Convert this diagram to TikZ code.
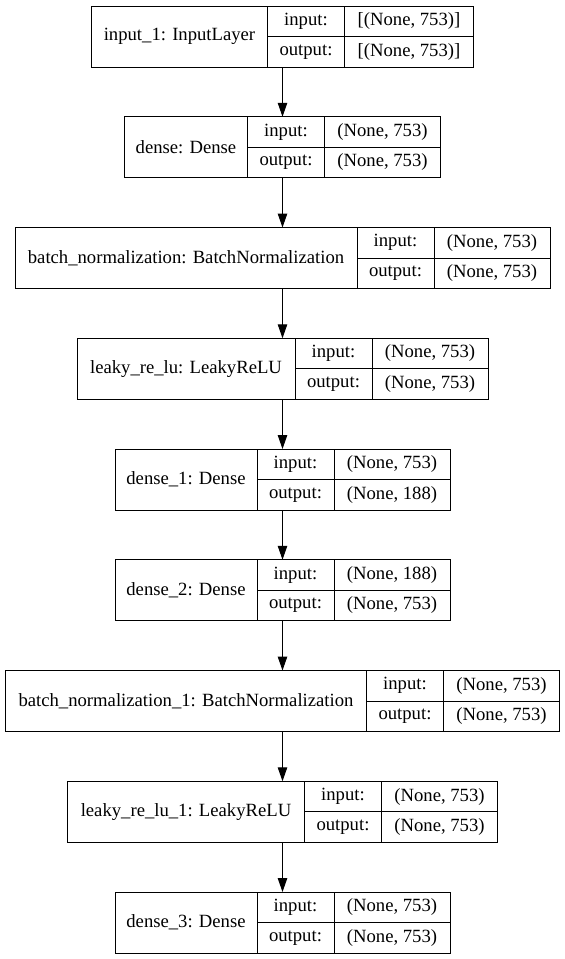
\documentclass[tikz,border=0pt]{standalone}
\usepackage{fontspec}
\setmainfont{Liberation Serif}
\usetikzlibrary{arrows.meta}
\begin{document}
\begin{tikzpicture}[x=1pt,y=-1pt,
    every node/.style={font=\fontsize{18.67pt}{22pt}\selectfont},
    rec/.style={minimum height=61pt,inner sep=0pt,outer sep=0pt},
    namecell/.style={draw,line width=1pt,minimum height=61pt,inner sep=0pt,outer sep=0pt,anchor=west},
    portcell/.style={draw,line width=1pt,minimum width=77pt,minimum height=30.5pt,inner sep=0pt,outer sep=0pt,anchor=north west},
    valcell/.style={draw,line width=1pt,minimum height=30.5pt,inner sep=0pt,outer sep=0pt,anchor=north west},
    flow/.style={line width=1pt,-{Triangle[length=14pt,width=9.5pt]}}]
  \useasboundingbox (0,0) rectangle (565,959);
  % input_1
  \node[rec,minimum width=382pt] (input1) at (282.5,36.5) {};
  \node[namecell,minimum width=176pt] (input1n) at (input1.west) {input\_1: InputLayer};
  \node[portcell] (input1i) at (input1n.north east) {input:};
  \node[portcell] (input1o) at (input1i.south west) {output:};
  \node[valcell,minimum width=129pt] (input1iv) at (input1i.north east) {[(None, 753)]};
  \node[valcell,minimum width=129pt] (input1ov) at (input1o.north east) {[(None, 753)]};
  % dense
  \node[rec,minimum width=316pt] (dense) at (282.5,147.25) {};
  \node[namecell,minimum width=123pt] (densen) at (dense.west) {dense: Dense};
  \node[portcell] (densei) at (densen.north east) {input:};
  \node[portcell] (denseo) at (densei.south west) {output:};
  \node[valcell,minimum width=116pt] (denseiv) at (densei.north east) {(None, 753)};
  \node[valcell,minimum width=116pt] (denseov) at (denseo.north east) {(None, 753)};
  % batch_normalization
  \node[rec,minimum width=535pt] (bn) at (282.5,258) {};
  \node[namecell,minimum width=342pt] (bnn) at (bn.west) {batch\_normalization: BatchNormalization};
  \node[portcell] (bni) at (bnn.north east) {input:};
  \node[portcell] (bno) at (bni.south west) {output:};
  \node[valcell,minimum width=116pt] (bniv) at (bni.north east) {(None, 753)};
  \node[valcell,minimum width=116pt] (bnov) at (bno.north east) {(None, 753)};
  % leaky_re_lu
  \node[rec,minimum width=411pt] (leaky) at (282.5,368.75) {};
  \node[namecell,minimum width=218pt] (leakyn) at (leaky.west) {leaky\_re\_lu: LeakyReLU};
  \node[portcell] (leakyi) at (leakyn.north east) {input:};
  \node[portcell] (leakyo) at (leakyi.south west) {output:};
  \node[valcell,minimum width=116pt] (leakyiv) at (leakyi.north east) {(None, 753)};
  \node[valcell,minimum width=116pt] (leakyov) at (leakyo.north east) {(None, 753)};
  % dense_1
  \node[rec,minimum width=335pt] (dense1) at (282.5,479.5) {};
  \node[namecell,minimum width=142pt] (dense1n) at (dense1.west) {dense\_1: Dense};
  \node[portcell] (dense1i) at (dense1n.north east) {input:};
  \node[portcell] (dense1o) at (dense1i.south west) {output:};
  \node[valcell,minimum width=116pt] (dense1iv) at (dense1i.north east) {(None, 753)};
  \node[valcell,minimum width=116pt] (dense1ov) at (dense1o.north east) {(None, 188)};
  % dense_2
  \node[rec,minimum width=335pt] (dense2) at (282.5,590.25) {};
  \node[namecell,minimum width=142pt] (dense2n) at (dense2.west) {dense\_2: Dense};
  \node[portcell] (dense2i) at (dense2n.north east) {input:};
  \node[portcell] (dense2o) at (dense2i.south west) {output:};
  \node[valcell,minimum width=116pt] (dense2iv) at (dense2i.north east) {(None, 188)};
  \node[valcell,minimum width=116pt] (dense2ov) at (dense2o.north east) {(None, 753)};
  % batch_normalization_1
  \node[rec,minimum width=554pt] (bn1) at (282.5,701) {};
  \node[namecell,minimum width=361pt] (bn1n) at (bn1.west) {batch\_normalization\_1: BatchNormalization};
  \node[portcell] (bn1i) at (bn1n.north east) {input:};
  \node[portcell] (bn1o) at (bn1i.south west) {output:};
  \node[valcell,minimum width=116pt] (bn1iv) at (bn1i.north east) {(None, 753)};
  \node[valcell,minimum width=116pt] (bn1ov) at (bn1o.north east) {(None, 753)};
  % leaky_re_lu_1
  \node[rec,minimum width=430pt] (leaky1) at (282.5,811.75) {};
  \node[namecell,minimum width=237pt] (leaky1n) at (leaky1.west) {leaky\_re\_lu\_1: LeakyReLU};
  \node[portcell] (leaky1i) at (leaky1n.north east) {input:};
  \node[portcell] (leaky1o) at (leaky1i.south west) {output:};
  \node[valcell,minimum width=116pt] (leaky1iv) at (leaky1i.north east) {(None, 753)};
  \node[valcell,minimum width=116pt] (leaky1ov) at (leaky1o.north east) {(None, 753)};
  % dense_3
  \node[rec,minimum width=335pt] (dense3) at (282.5,922.5) {};
  \node[namecell,minimum width=142pt] (dense3n) at (dense3.west) {dense\_3: Dense};
  \node[portcell] (dense3i) at (dense3n.north east) {input:};
  \node[portcell] (dense3o) at (dense3i.south west) {output:};
  \node[valcell,minimum width=116pt] (dense3iv) at (dense3i.north east) {(None, 753)};
  \node[valcell,minimum width=116pt] (dense3ov) at (dense3o.north east) {(None, 753)};
  \begin{scope}[flow]
    \draw (input1) to (dense);
    \draw (dense) to (bn);
    \draw (bn) to (leaky);
    \draw (leaky) to (dense1);
    \draw (dense1) to (dense2);
    \draw (dense2) to (bn1);
    \draw (bn1) to (leaky1);
    \draw (leaky1) to (dense3);
  \end{scope}
\end{tikzpicture}
\end{document}
